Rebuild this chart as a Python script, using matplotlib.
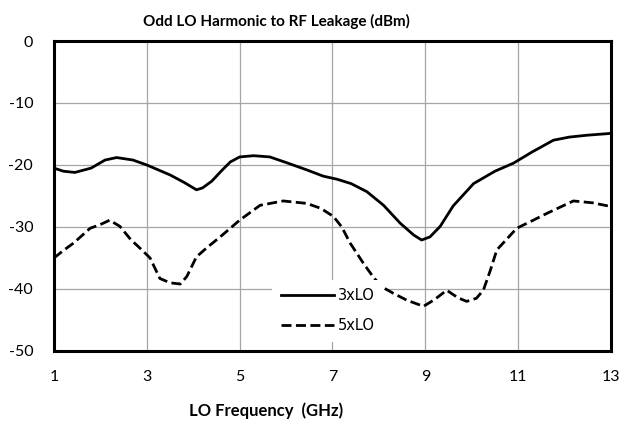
import matplotlib
matplotlib.use("Agg")
import matplotlib.pyplot as plt

freq_3lo = [1.0, 1.2, 1.45, 1.8, 2.1, 2.35, 2.7, 3.0, 3.5, 3.8, 4.07, 4.2, 4.4, 4.6, 4.8, 5.0, 5.3, 5.65, 6.0, 6.45, 6.8, 7.1, 7.4, 7.74, 8.1, 8.46, 8.75, 8.92, 9.1, 9.32, 9.6, 10.04, 10.5, 10.9, 11.3, 11.76, 12.1, 12.48, 13.0]
leak_3lo = [-20.5, -21.0, -21.2, -20.5, -19.2, -18.8, -19.2, -20.0, -21.6, -22.8, -24.0, -23.7, -22.6, -21.0, -19.5, -18.7, -18.5, -18.7, -19.6, -20.8, -21.8, -22.3, -23.0, -24.3, -26.5, -29.4, -31.3, -32.1, -31.6, -29.9, -26.6, -23.0, -21.0, -19.7, -17.9, -16.0, -15.5, -15.2, -14.9]

freq_5lo = [1.0, 1.2, 1.42, 1.78, 2.0, 2.2, 2.42, 2.65, 2.85, 3.07, 3.28, 3.5, 3.72, 3.86, 4.07, 4.3, 4.58, 5.0, 5.44, 5.94, 6.45, 6.75, 7.02, 7.2, 7.38, 7.67, 7.9, 8.1, 8.31, 8.6, 8.96, 9.2, 9.46, 9.7, 9.89, 10.1, 10.25, 10.4, 10.54, 10.97, 11.3, 11.62, 12.19, 12.6, 13.0]
leak_5lo = [-35.0, -33.8, -32.6, -30.2, -29.6, -28.9, -29.9, -32.0, -33.4, -35.0, -38.3, -39.0, -39.2, -38.0, -34.8, -33.3, -31.6, -28.9, -26.5, -25.8, -26.2, -27.0, -28.3, -30.0, -32.6, -35.9, -38.3, -39.8, -40.7, -41.8, -42.8, -41.7, -40.2, -41.4, -42.0, -41.5, -40.2, -37.0, -33.7, -30.2, -29.0, -27.8, -25.8, -26.1, -26.7]

series_labels = ["3xLO", "5xLO"]
x_ticks = [1, 3, 5, 7, 9, 11, 13]
y_ticks = [0, -10, -20, -30, -40, -50]
title = "Odd LO Harmonic to RF Leakage (dBm)"
x_label = "LO Frequency  (GHz)"

plt.rcParams['font.family'] = ['Lato', 'DejaVu Sans']

fig = plt.figure(figsize=(6.25, 4.24), dpi=100)
ax = fig.add_axes([0.0864, 0.1722, 0.8912, 0.7311])

ax.plot(freq_3lo, leak_3lo, color='black', lw=2.0, label=series_labels[0], zorder=3,
        solid_joinstyle='round')
ax.plot(freq_5lo, leak_5lo, color='black', lw=2.0, ls=(0, (3.6, 1.6)), label=series_labels[1], zorder=3)

ax.set_xlim(1, 13)
ax.set_ylim(-50, 0)
ax.set_xticks(x_ticks)
ax.set_yticks(y_ticks)
ax.set_xticklabels([str(v) for v in x_ticks], fontsize=11.5)
ax.set_yticklabels([str(v) for v in y_ticks], fontsize=11.5)
ax.tick_params(length=0)
ax.tick_params(axis='y', pad=15)
ax.tick_params(axis='x', pad=14)
ax.grid(True, color='#a6a6a6', lw=0.9)
ax.set_axisbelow(True)
for s in ax.spines.values():
    s.set_linewidth(2.2)
    s.set_color('black')

fig.text(276 / 625, 1 - 21 / 424, title, fontsize=11, fontweight='bold',
         ha='center', va='center')
fig.text(266 / 625, 1 - 411 / 424, x_label, fontsize=12, fontweight='bold',
         ha='center', va='center')

leg = ax.legend(loc='lower left', bbox_to_anchor=(0.392, 0.03), frameon=True,
                handlelength=3.6, handletextpad=0.3, labelspacing=1.0,
                prop={'family': 'DejaVu Sans', 'size': 10.5}, borderpad=0.6,
                borderaxespad=0)
leg.get_frame().set_facecolor('white')
leg.get_frame().set_edgecolor('none')
leg.get_frame().set_alpha(1)
leg.get_frame().set_boxstyle('square', pad=0)
leg.set_zorder(5)

fig.savefig("out.png", dpi=100)
